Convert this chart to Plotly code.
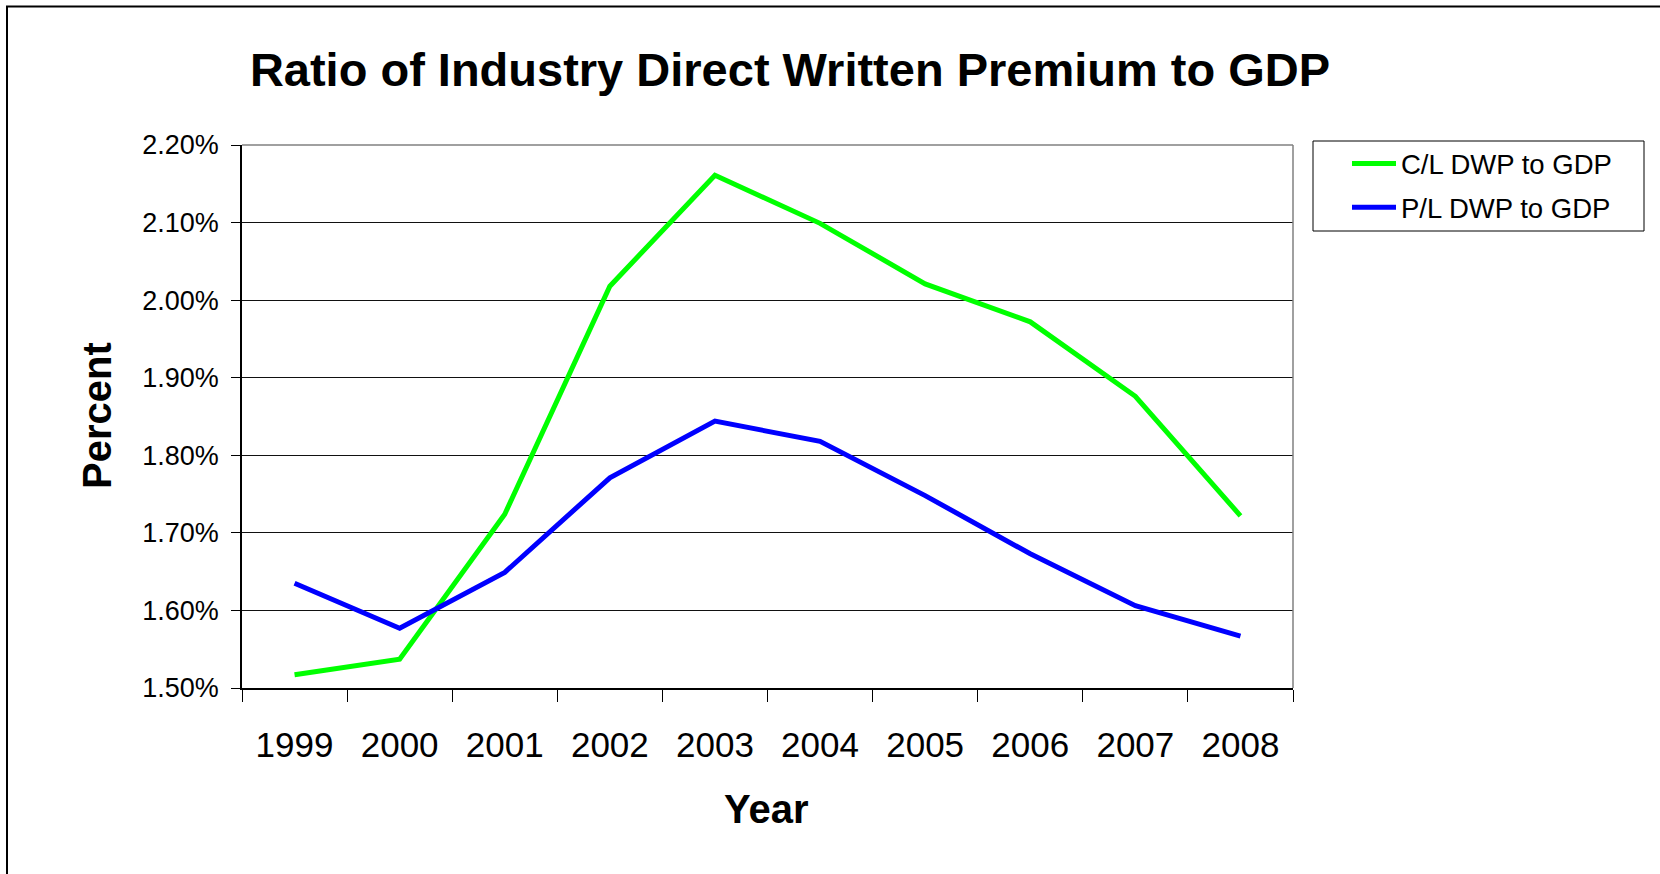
import plotly.graph_objects as go

# Ratio of direct written premium to GDP, in percent
years = ["1999", "2000", "2001", "2002", "2003", "2004", "2005", "2006", "2007", "2008"]
cl_dwp_to_gdp = [1.517, 1.537, 1.724, 2.018, 2.161, 2.099, 2.021, 1.972, 1.876, 1.722]
pl_dwp_to_gdp = [1.635, 1.577, 1.649, 1.771, 1.844, 1.818, 1.748, 1.673, 1.606, 1.567]
y_tick_values = [1.50, 1.60, 1.70, 1.80, 1.90, 2.00, 2.10, 2.20]
y_tick_labels = [f"{v:.2f}%" for v in y_tick_values]

W, H = 1660, 874
L, R, T, B = 242, 1293, 145, 688  # plot area edges in pixels


def px_x(px):
    return (px - L) / (R - L)


def px_y(py):
    return (B - py) / (B - T)


FONT = "Liberation Sans, Arial, sans-serif"

fig = go.Figure()
fig.add_trace(go.Scatter(
    x=years, y=cl_dwp_to_gdp, mode="lines", name="C/L DWP to GDP",
    line=dict(color="#00FF00", width=5), legendgroup="cl",
))
fig.add_trace(go.Scatter(
    x=years, y=pl_dwp_to_gdp, mode="lines", name="P/L DWP to GDP",
    line=dict(color="#0000FF", width=5), legendgroup="pl",
))

shapes = [
    # outer chart border
    dict(type="rect", xref="paper", yref="paper",
         x0=px_x(7), x1=px_x(1700), y0=px_y(920), y1=px_y(6.5),
         line=dict(color="black", width=2), fillcolor="rgba(0,0,0,0)", layer="above"),
    # plot area frame (top and right)
    dict(type="line", xref="paper", yref="paper", x0=0, x1=1, y0=1, y1=1,
         line=dict(color="#808080", width=1.5), layer="above"),
    dict(type="line", xref="paper", yref="paper", x0=1, x1=1, y0=0, y1=1,
         line=dict(color="#808080", width=1.5), layer="above"),
    # legend frame
    dict(type="rect", xref="paper", yref="paper",
         x0=px_x(1313), x1=px_x(1644), y0=px_y(231), y1=px_y(141),
         line=dict(color="black", width=1), fillcolor="rgba(0,0,0,0)", layer="above"),
]

annotations = [
    dict(text="<b>Percent</b>", xref="paper", yref="paper", x=px_x(97), y=px_y(416),
         textangle=-90, showarrow=False, xanchor="center", yanchor="middle",
         font=dict(family=FONT, size=40, color="black")),
    dict(text="<b>Year</b>", xref="paper", yref="paper", x=px_x(766), y=px_y(809),
         showarrow=False, xanchor="center", yanchor="middle",
         font=dict(family=FONT, size=40, color="black")),
]

fig.update_layout(
    width=W, height=H,
    margin=dict(l=L, r=W - R, t=T, b=H - B, pad=0),
    paper_bgcolor="white", plot_bgcolor="white",
    font=dict(family=FONT, color="black"),
    title=dict(text="<b>Ratio of Industry Direct Written Premium to GDP</b>",
               xref="container", yref="container", x=790 / W, y=1 - 70 / H,
               xanchor="center", yanchor="middle",
               font=dict(family=FONT, size=47, color="black")),
    xaxis=dict(
        type="category", range=[-0.5, 9.5], tickson="boundaries",
        ticks="outside", ticklen=12, tickcolor="black", tickwidth=1,
        showline=True, linecolor="black", linewidth=1.5,
        showgrid=False, ticklabelstandoff=25,
        tickfont=dict(family=FONT, size=35, color="black"),
    ),
    yaxis=dict(
        range=[1.5, 2.2], tickvals=y_tick_values, ticktext=y_tick_labels,
        ticks="outside", ticklen=9, tickcolor="black", tickwidth=1,
        showline=True, linecolor="black", linewidth=1.5,
        showgrid=True, gridcolor="#111111", gridwidth=1, zeroline=False,
        ticklabelstandoff=7,
        tickfont=dict(family=FONT, size=27, color="black"),
    ),
    legend=dict(
        x=px_x(1347), y=px_y(139), xanchor="left", yanchor="top",
        bgcolor="rgba(0,0,0,0)", borderwidth=0, itemwidth=44,
        tracegroupgap=5,
        font=dict(family=FONT, size=27.5, color="black"),
    ),
    shapes=shapes,
    annotations=annotations,
    showlegend=True,
)

fig.write_html("out.html")
